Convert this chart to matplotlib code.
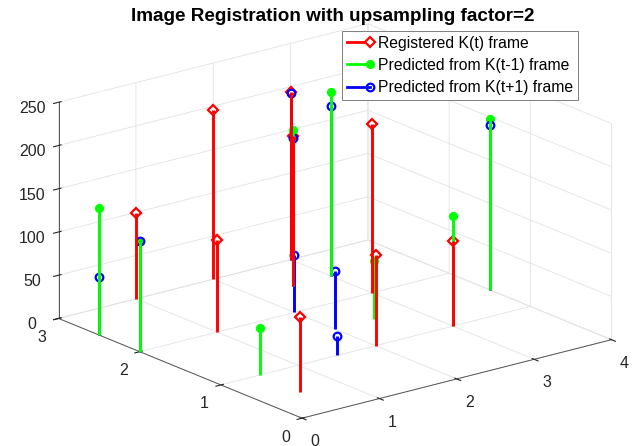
import numpy as np
import matplotlib
matplotlib.use('Agg')
import matplotlib.pyplot as plt
from matplotlib.lines import Line2D
from matplotlib.legend_handler import HandlerBase

# stem positions (x, y) on the upsampled grid and heights z
red_x = [1, 2, 1, 3, 2.5, 0.5, 3, 2, 3]
red_y = [3, 3, 2, 3, 2.5, 0.5, 2, 1, 1]
red_z = [99, 196, 107, 194, 174, 86, 195, 105, 98]

green_x = [0, 0, 2.5, 3, 2.5, 0.5, 3, 4]
green_y = [2.5, 2, 2.5, 2.5, 1.5, 1, 1, 1.5]
green_z = [147, 128, 180, 213, 67, 55, 127, 198]

blue_x = [0, 0, 3, 2.5, 2, 3, 2, 1.5, 4]
blue_y = [2.5, 2, 3, 2.5, 2, 2.5, 1.5, 1, 1.5]
blue_z = [67, 128, 193, 171, 66, 197, 67, 23, 191]

labels = ['Registered K(t) frame', 'Predicted from K(t-1) frame', 'Predicted from K(t+1) frame']
xticks = [0, 1, 2, 3, 4]
yticks = [0, 1, 2, 3]
zticks = [0, 50, 100, 150, 200, 250]

plt.rcParams['font.family'] = ['Liberation Sans', 'DejaVu Sans']
plt.rcParams['grid.color'] = '#e2e2e2'
plt.rcParams['grid.linewidth'] = 0.6

fig = plt.figure(figsize=(6.38, 4.46), dpi=100)
ax = fig.add_axes([10 / 638, -4 / 446, 1.0, 1.0], projection='3d')
ax.set_proj_type('ortho')
ax.view_init(elev=18.8, azim=-128.2)
ax.set_box_aspect((1, 1, 0.58), zoom=1.31)


def draw(xs, ys, zs, color, marker, ms, face):
    st = ax.stem(xs, ys, zs, linefmt='-', markerfmt=marker, bottom=0)
    st.stemlines.set_color(color)
    st.stemlines.set_linewidth(2.1)
    st.stemlines.set_clip_on(False)
    st.markerline.set_clip_on(False)
    st.markerline.set_color(color)
    st.markerline.set_markersize(ms)
    st.markerline.set_markeredgewidth(1.6)
    st.markerline.set_markerfacecolor(face)
    st.baseline.set_visible(False)


draw(red_x, red_y, red_z, 'red', 'D', 4.8, 'white')
draw(green_x, green_y, green_z, 'lime', 'o', 5, 'lime')
draw(blue_x, blue_y, blue_z, 'blue', 'o', 5.5, 'none')

ax.set_xlim(0, 4)
ax.set_ylim(0, 3)
ax.set_zlim(0, 250)
ax.set_xticks(xticks)
ax.set_yticks(yticks)
ax.set_zticks(zticks)
for axis in (ax.xaxis, ax.yaxis, ax.zaxis):
    axis.set_pane_color((1, 1, 1, 0))
    axis.pane.set_edgecolor((1, 1, 1, 0))
    axis.line.set_color('#555555')
    axis.line.set_linewidth(0.7)
ax.tick_params(labelsize=11.5, colors='#262626')
ax.xaxis.set_tick_params(pad=0.5)
ax.yaxis.set_tick_params(pad=-1.5)
ax.zaxis.set_tick_params(pad=0)
for lab in ax.get_yticklabels():
    lab.set_horizontalalignment('right')


class StemHandler(HandlerBase):
    def create_artists(self, legend, orig, xdescent, ydescent, width, height, fontsize, trans):
        y = height / 2 - ydescent
        line = Line2D([-xdescent, width - xdescent], [y, y], color=orig.get_color(), lw=2)
        mk = Line2D([width - xdescent], [y], marker=orig.get_marker(), ms=orig.get_markersize(),
                    mec=orig.get_color(), mfc=orig.get_markerfacecolor(), mew=1.6, ls='none')
        line.set_transform(trans)
        mk.set_transform(trans)
        return [line, mk]


handles = [Line2D([], [], color='red', marker='D', ms=4.8, mfc='white'),
           Line2D([], [], color='lime', marker='o', ms=5, mfc='lime'),
           Line2D([], [], color='blue', marker='o', ms=5.5, mfc='none')]
leg = fig.legend(handles, labels, loc='upper left', bbox_to_anchor=(342 / 638, 1 - 31 / 446),
                 borderaxespad=0, fontsize=11.3, fancybox=False, edgecolor='#7f7f7f',
                 framealpha=1, handlelength=1.5, handletextpad=0.5, labelspacing=0.46,
                 borderpad=0.3, handler_map={Line2D: StemHandler()})
leg.get_frame().set_linewidth(0.7)

fig.suptitle('Image Registration with upsampling factor=2', x=0.521, y=0.981,
             fontsize=13.6, fontweight='bold', va='top')

fig.savefig('out.png', dpi=100)
